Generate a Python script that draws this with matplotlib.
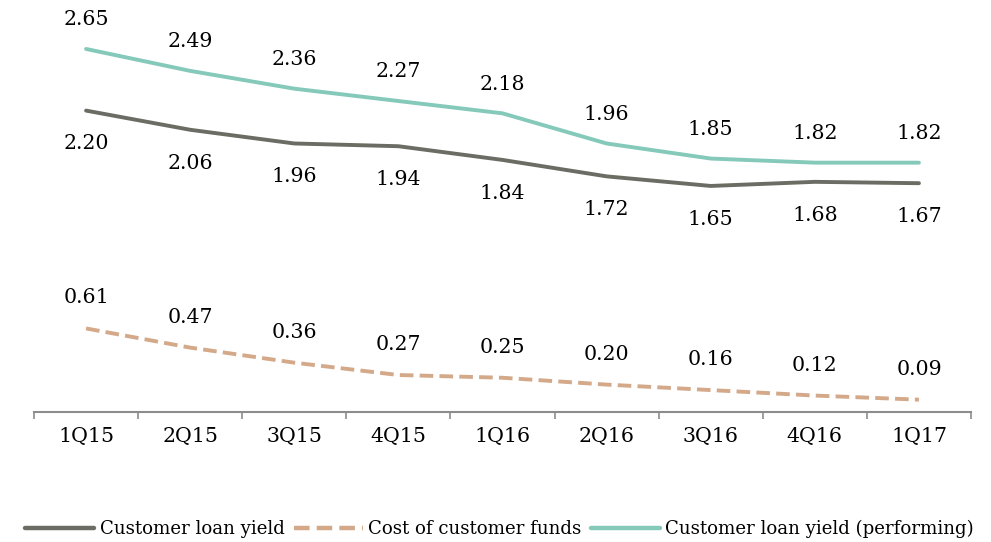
import matplotlib

matplotlib.use("Agg")
import matplotlib.pyplot as plt
import numpy as np

quarters = ["1Q15", "2Q15", "3Q15", "4Q15", "1Q16", "2Q16", "3Q16", "4Q16", "1Q17"]
loan_yield = [2.20, 2.06, 1.96, 1.94, 1.84, 1.72, 1.65, 1.68, 1.67]
cost_funds = [0.61, 0.47, 0.36, 0.27, 0.25, 0.20, 0.16, 0.12, 0.09]
loan_yield_perf = [2.65, 2.49, 2.36, 2.27, 2.18, 1.96, 1.85, 1.82, 1.82]

DARK = "#6b6c63"
TAN = "#d4a98a"
TEAL = "#84c9ba"

plt.rcParams["font.family"] = ["DejaVu Serif"]

fig = plt.figure(figsize=(9.91, 5.42), dpi=100)
ax = fig.add_axes([34 / 991, 1 - 412 / 542, 937 / 991, 411 / 542])

x = np.arange(len(quarters))
ax.plot(x, loan_yield, color=DARK, lw=2.8, solid_capstyle="round", label="Customer loan yield")
ax.plot(x, cost_funds, color=TAN, lw=2.8, ls=(0, (3.5, 1.6)), label="Cost of customer funds")
ax.plot(x, loan_yield_perf, color=TEAL, lw=2.8, solid_capstyle="round",
        label="Customer loan yield (performing)")

FS = 14.8
for xi, v in zip(x, loan_yield_perf):
    ax.annotate(f"{v:.2f}", (xi, v), xytext=(0, 21), textcoords="offset points",
                ha="center", va="center", fontsize=FS)
for xi, v in zip(x, loan_yield):
    ax.annotate(f"{v:.2f}", (xi, v), xytext=(0, -24), textcoords="offset points",
                ha="center", va="center", fontsize=FS)
for xi, v in zip(x, cost_funds):
    ax.annotate(f"{v:.2f}", (xi, v), xytext=(0, 22), textcoords="offset points",
                ha="center", va="center", fontsize=FS)

ax.set_xlim(-0.5, len(quarters) - 0.5)
ax.set_ylim(0, 3.0)
ax.set_yticks([])
for side in ["left", "right", "top"]:
    ax.spines[side].set_visible(False)
ax.spines["bottom"].set_color("#8c8c8c")
ax.spines["bottom"].set_linewidth(1.5)

ax.set_xticks(x)
ax.set_xticklabels(quarters, fontsize=FS)
ax.tick_params(axis="x", which="major", length=0, pad=11)
ax.set_xticks(np.arange(-0.5, len(quarters), 1.0), minor=True)
ax.tick_params(axis="x", which="minor", length=5, width=1.2, color="#8c8c8c")

leg = ax.legend(loc="center", bbox_to_anchor=(0.497, -0.285), ncol=3, frameon=False,
                fontsize=13.1, handlelength=3.8, handletextpad=0.3, columnspacing=0.5)
for line in leg.get_lines():
    line.set_linewidth(3.2)

fig.savefig("out.png", dpi=100)
